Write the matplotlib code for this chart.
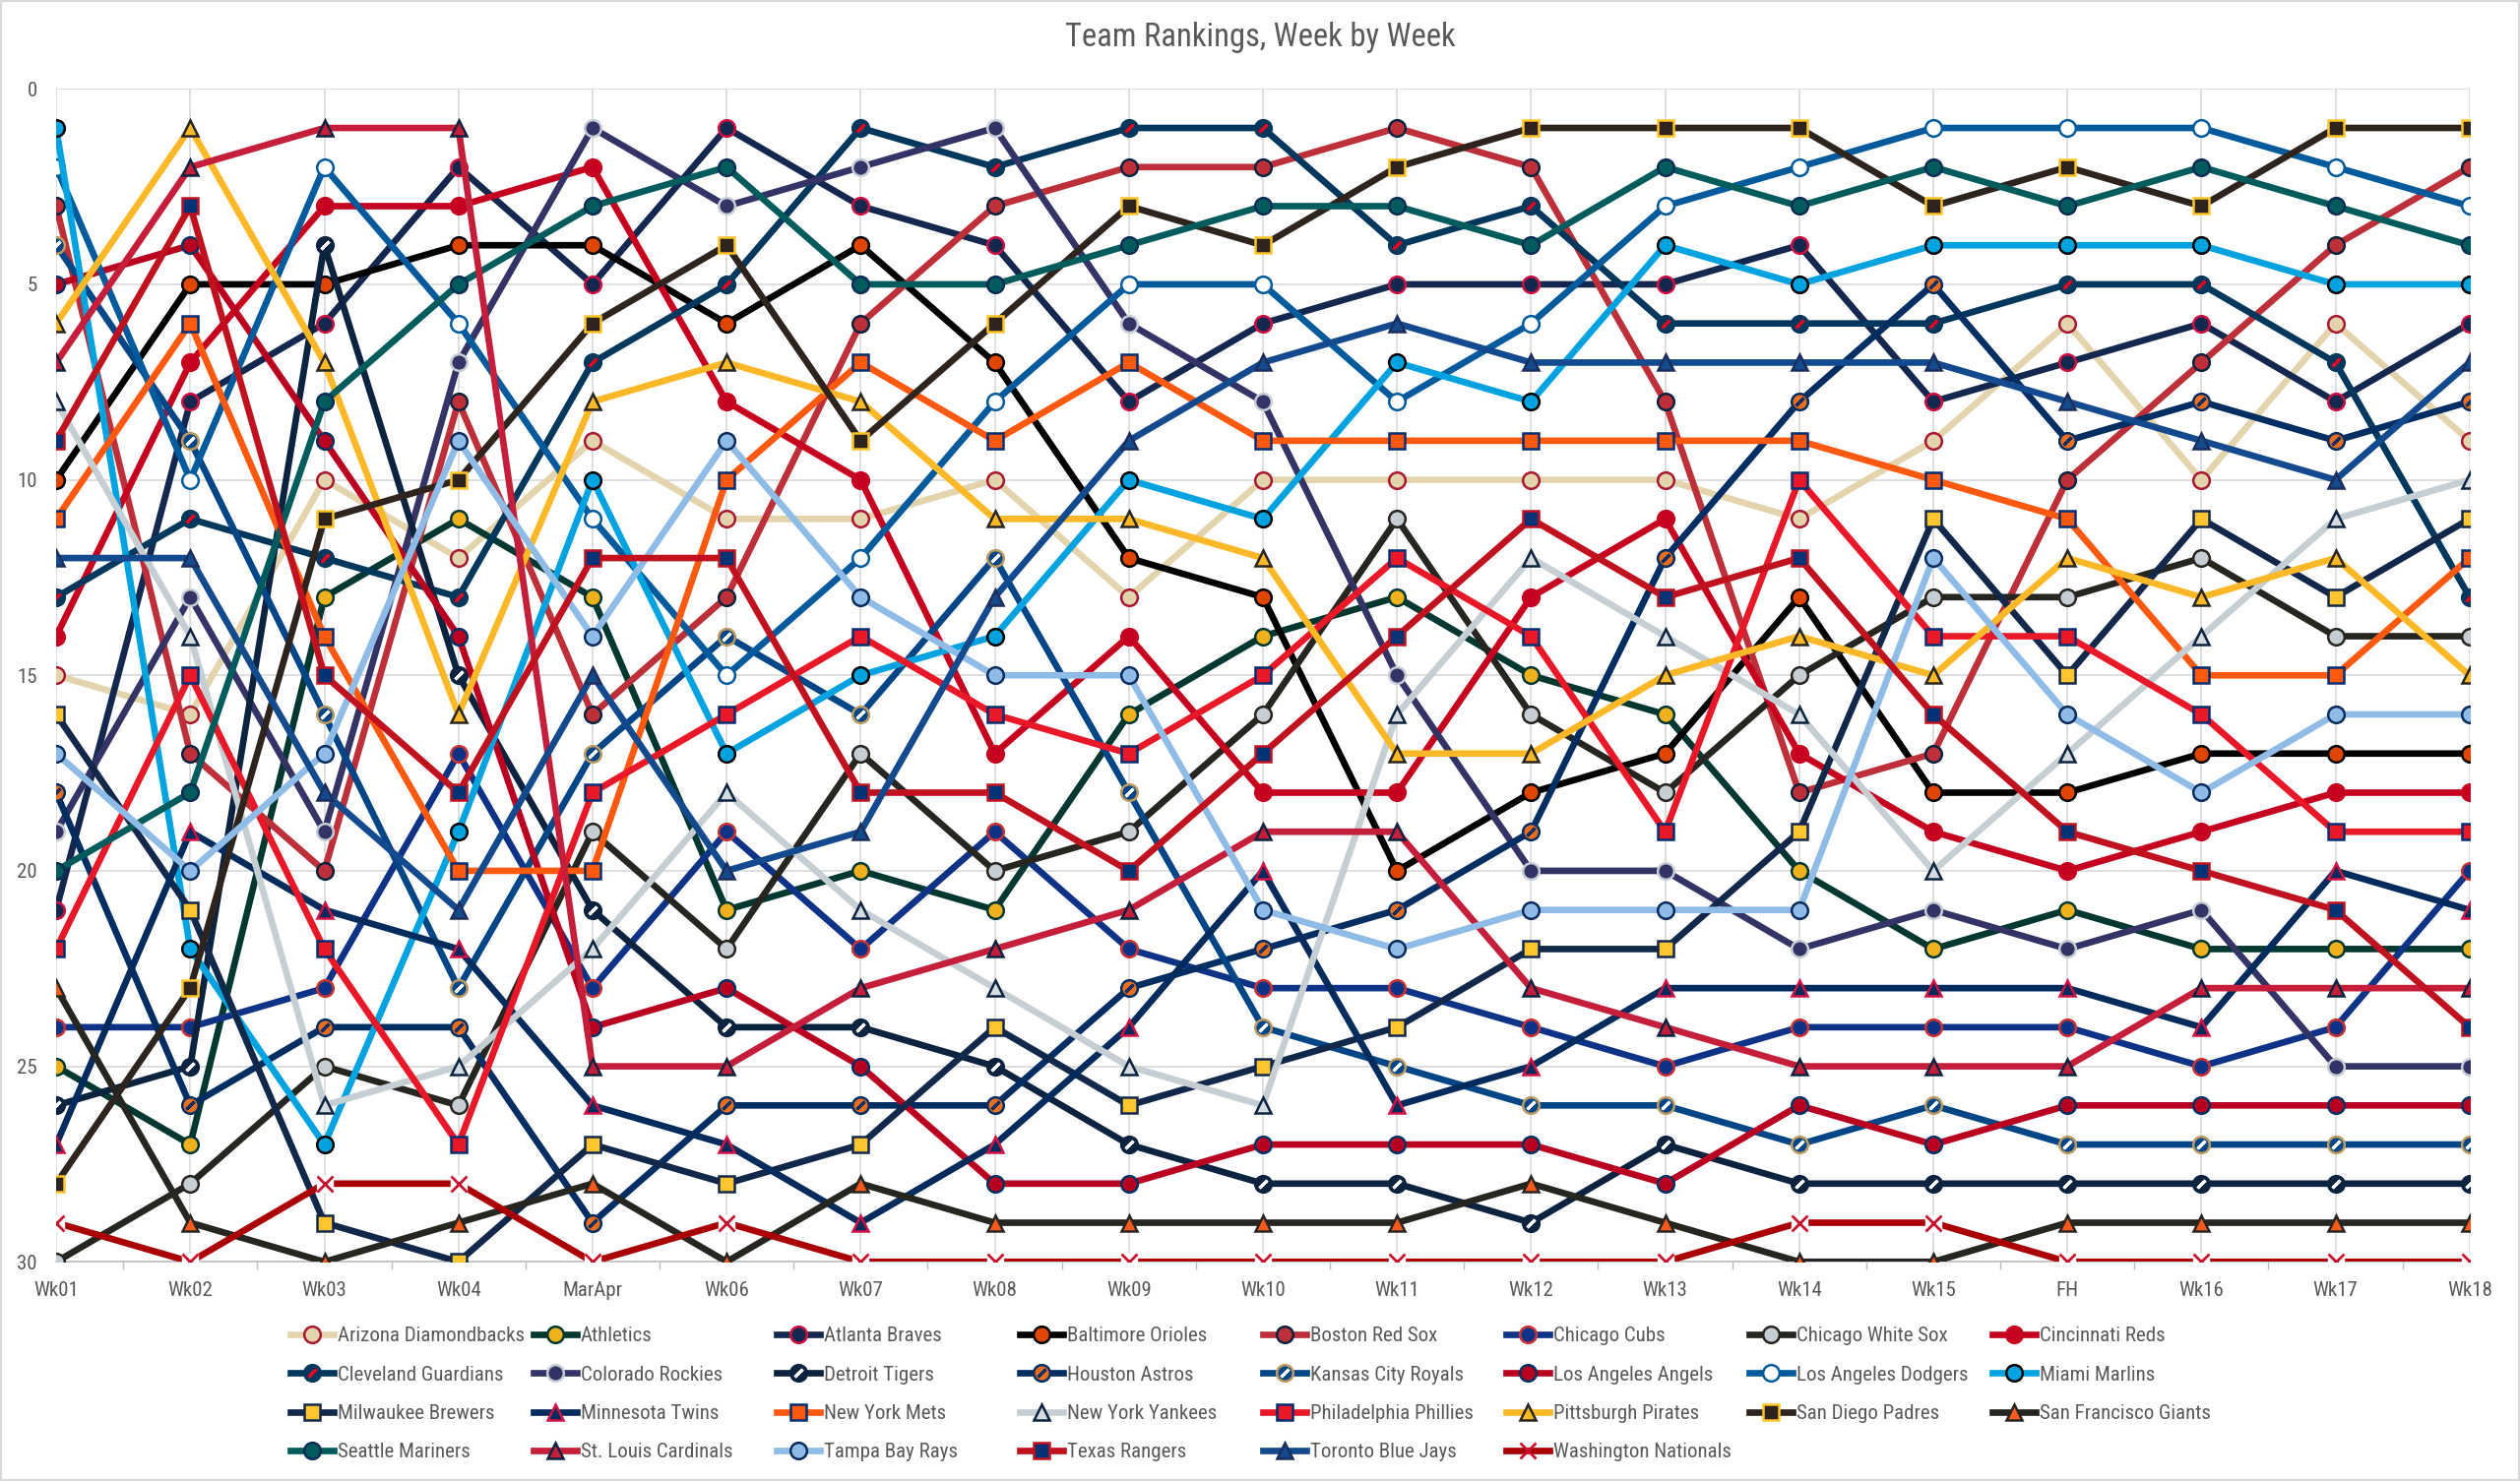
import matplotlib
matplotlib.use("Agg")
import matplotlib.pyplot as plt
from matplotlib import font_manager
from matplotlib.patches import Rectangle

# pick a narrow face if one is installed (the original uses a condensed Office font)
available = {f.name for f in font_manager.fontManager.ttflist}
font_name = "DejaVu Sans"
for cand in ["Liberation Sans Narrow", "Roboto Condensed", "Open Sans Condensed", "Noto Sans", "Liberation Sans"]:
    if cand in available:
        font_name = cand
        break
narrow = font_name in ("Liberation Sans Narrow", "Roboto Condensed", "Open Sans Condensed")
plt.rcParams["font.family"] = [font_name, "DejaVu Sans"]

weeks = ["Wk01", "Wk02", "Wk03", "Wk04", "MarApr", "Wk06", "Wk07", "Wk08", "Wk09", "Wk10",
         "Wk11", "Wk12", "Wk13", "Wk14", "Wk15", "FH", "Wk16", "Wk17", "Wk18"]

# weekly ranks
ari = [15, 16, 10, 12, 9, 11, 11, 10, 13, 10, 10, 10, 10, 11, 9, 6, 10, 6, 9]
ath = [25, 27, 13, 11, 13, 21, 20, 21, 16, 14, 13, 15, 16, 20, 22, 21, 22, 22, 22]
atl = [21, 8, 6, 2, 5, 1, 3, 4, 8, 6, 5, 5, 5, 4, 8, 7, 6, 8, 6]
bal = [10, 5, 5, 4, 4, 6, 4, 7, 12, 13, 20, 18, 17, 13, 18, 18, 17, 17, 17]
bos = [3, 17, 20, 8, 16, 13, 6, 3, 2, 2, 1, 2, 8, 18, 17, 10, 7, 4, 2]
chc = [24, 24, 23, 17, 23, 19, 22, 19, 22, 23, 23, 24, 25, 24, 24, 24, 25, 24, 20]
cws = [30, 28, 25, 26, 19, 22, 17, 20, 19, 16, 11, 16, 18, 15, 13, 13, 12, 14, 14]
cin = [14, 7, 3, 3, 2, 8, 10, 17, 14, 18, 18, 13, 11, 17, 19, 20, 19, 18, 18]
cle = [13, 11, 12, 13, 7, 5, 1, 2, 1, 1, 4, 3, 6, 6, 6, 5, 5, 7, 13]
col = [19, 13, 19, 7, 1, 3, 2, 1, 6, 8, 15, 20, 20, 22, 21, 22, 21, 25, 25]
det = [26, 25, 4, 15, 21, 24, 24, 25, 27, 28, 28, 29, 27, 28, 28, 28, 28, 28, 28]
hou = [18, 26, 24, 24, 29, 26, 26, 26, 23, 22, 21, 19, 12, 8, 5, 9, 8, 9, 8]
kc = [4, 9, 16, 23, 17, 14, 16, 12, 18, 24, 25, 26, 26, 27, 26, 27, 27, 27, 27]
laa = [5, 4, 9, 14, 24, 23, 25, 28, 28, 27, 27, 27, 28, 26, 27, 26, 26, 26, 26]
lad = [2, 10, 2, 6, 11, 15, 12, 8, 5, 5, 8, 6, 3, 2, 1, 1, 1, 2, 3]
mia = [1, 22, 27, 19, 10, 17, 15, 14, 10, 11, 7, 8, 4, 5, 4, 4, 4, 5, 5]
mil = [16, 21, 29, 30, 27, 28, 27, 24, 26, 25, 24, 22, 22, 19, 11, 15, 11, 13, 11]
mnt = [27, 19, 21, 22, 26, 27, 29, 27, 24, 20, 26, 25, 23, 23, 23, 23, 24, 20, 21]
nym = [11, 6, 14, 20, 20, 10, 7, 9, 7, 9, 9, 9, 9, 9, 10, 11, 15, 15, 12]
nyy = [8, 14, 26, 25, 22, 18, 21, 23, 25, 26, 16, 12, 14, 16, 20, 17, 14, 11, 10]
phi = [22, 15, 22, 27, 18, 16, 14, 16, 17, 15, 12, 14, 19, 10, 14, 14, 16, 19, 19]
pit = [6, 1, 7, 16, 8, 7, 8, 11, 11, 12, 17, 17, 15, 14, 15, 12, 13, 12, 15]
sd = [28, 23, 11, 10, 6, 4, 9, 6, 3, 4, 2, 1, 1, 1, 3, 2, 3, 1, 1]
sf = [23, 29, 30, 29, 28, 30, 28, 29, 29, 29, 29, 28, 29, 30, 30, 29, 29, 29, 29]
sea = [20, 18, 8, 5, 3, 2, 5, 5, 4, 3, 3, 4, 2, 3, 2, 3, 2, 3, 4]
stl = [7, 2, 1, 1, 25, 25, 23, 22, 21, 19, 19, 23, 24, 25, 25, 25, 23, 23, 23]
tb = [17, 20, 17, 9, 14, 9, 13, 15, 15, 21, 22, 21, 21, 21, 12, 16, 18, 16, 16]
tex = [9, 3, 15, 18, 12, 12, 18, 18, 20, 17, 14, 11, 13, 12, 16, 19, 20, 21, 24]
tor = [12, 12, 18, 21, 15, 20, 19, 13, 9, 7, 6, 7, 7, 7, 7, 8, 9, 10, 7]
wsh = [29, 30, 28, 28, 30, 29, 30, 30, 30, 30, 30, 30, 30, 29, 29, 30, 30, 30, 30]

# name, ranks, line colour, marker, face, edge, stripe colour (None = plain marker)
teams = [
    ("Arizona Diamondbacks", ari, "#E3D4AD", "o", "#E3D4AD", "#A71930", None),
    ("Athletics", ath, "#003831", "o", "#EFB21E", "#003831", None),
    ("Atlanta Braves", atl, "#13274F", "o", "#13274F", "#CE1141", None),
    ("Baltimore Orioles", bal, "#000000", "o", "#DF4601", "#000000", None),
    ("Boston Red Sox", bos, "#BD3039", "o", "#BD3039", "#0C2340", None),
    ("Chicago Cubs", chc, "#0E3386", "o", "#0E3386", "#CC3433", None),
    ("Chicago White Sox", cws, "#27251F", "o", "#C4CED4", "#27251F", None),
    ("Cincinnati Reds", cin, "#C6011F", "o", "#C6011F", "#C6011F", None),
    ("Cleveland Guardians", cle, "#00385D", "o", "#00385D", "#00385D", "#E50022"),
    ("Colorado Rockies", col, "#333366", "o", "#333366", "#C4CED4", None),
    ("Detroit Tigers", det, "#0C2340", "o", "#0C2340", "#0C2340", "#FFFFFF"),
    ("Houston Astros", hou, "#002D62", "o", "#EB6E1F", "#002D62", "#002D62"),
    ("Kansas City Royals", kc, "#004687", "o", "#004687", "#BD9B60", "#FFFFFF"),
    ("Los Angeles Angels", laa, "#BA0021", "o", "#BA0021", "#003263", None),
    ("Los Angeles Dodgers", lad, "#005A9C", "o", "#FFFFFF", "#005A9C", None),
    ("Miami Marlins", mia, "#00A3E0", "o", "#00A3E0", "#000000", None),
    ("Milwaukee Brewers", mil, "#12284B", "s", "#FFC52F", "#12284B", None),
    ("Minnesota Twins", mnt, "#002B5C", "^", "#002B5C", "#D31145", None),
    ("New York Mets", nym, "#FF5910", "s", "#FF5910", "#002D72", None),
    ("New York Yankees", nyy, "#C4CED3", "^", "#D5DCE0", "#0C2340", None),
    ("Philadelphia Phillies", phi, "#E81828", "s", "#E81828", "#002D72", None),
    ("Pittsburgh Pirates", pit, "#FDB827", "^", "#FDB827", "#27251F", None),
    ("San Diego Padres", sd, "#2F241D", "s", "#2F241D", "#FFC425", None),
    ("San Francisco Giants", sf, "#27251F", "^", "#FD5A1E", "#27251F", None),
    ("Seattle Mariners", sea, "#005C5C", "o", "#005C5C", "#0C2C56", None),
    ("St. Louis Cardinals", stl, "#C41E3A", "^", "#C41E3A", "#0C2340", None),
    ("Tampa Bay Rays", tb, "#8FBCE6", "o", "#8FBCE6", "#092C5C", None),
    ("Texas Rangers", tex, "#C0111F", "s", "#003278", "#C0111F", None),
    ("Toronto Blue Jays", tor, "#134A8E", "^", "#134A8E", "#1D2D5C", None),
    ("Washington Nationals", wsh, "#AB0003", "x", "#FFFFFF", "#C8102E", None),
]

fig = plt.figure(figsize=(25.6, 15.05), dpi=100)
ax = fig.add_axes([0.0223, 0.148, 0.9577, 0.792])

x = list(range(len(weeks)))
handles = []
for i, (name, ranks, lc, mk, mfc, mec, stripe) in enumerate(teams):
    z = 3 + i * 0.1
    if mk == "x":
        ax.plot(x, ranks, color=lc, lw=4.8, solid_capstyle="round", zorder=z)
        ax.plot(x, ranks, ls="none", marker="s", ms=11, mfc="white", mec="white", zorder=z + 0.01)
        h, = ax.plot(x, ranks, ls="none", marker="x", ms=11, mec=mec, mew=2, zorder=z + 0.02)
        leg_line, = ax.plot([], [], color=lc, lw=4.8)
        handles.append(((leg_line, h), name))
        continue
    h, = ax.plot(x, ranks, color=lc, lw=4.8, marker=mk, ms=12, mfc=mfc, mec=mec, mew=1.8,
                 solid_joinstyle="round", zorder=z)
    if stripe is not None:
        s, = ax.plot(x, ranks, ls="none", marker=(2, 2, -45), ms=8, mec=stripe, mew=2.2,
                     zorder=z + 0.01)
        handles.append(((h, s), name))
    else:
        handles.append((h, name))

ax.set_xlim(0, len(weeks) - 1)
ax.set_ylim(30, 0)
ax.set_yticks(range(0, 31, 5))
ax.set_xticks(x)
ax.set_xticklabels(weeks)
ax.set_xticks([v + 0.5 for v in x[:-1]], minor=True)

tick_fs = 15 if narrow else 13
ax.tick_params(axis="y", length=0, pad=14, labelsize=tick_fs, labelcolor="#595959")
ax.tick_params(axis="x", which="major", length=0, pad=14, labelsize=tick_fs, labelcolor="#595959")
ax.tick_params(axis="x", which="minor", length=6, width=1, color="#BFBFBF")

ax.grid(True, which="major", color="#D9D9D9", lw=1.2, zorder=0)
ax.set_axisbelow(True)
for sp in ["top", "right", "left"]:
    ax.spines[sp].set_visible(False)
ax.spines["bottom"].set_color("#BFBFBF")
ax.spines["bottom"].set_linewidth(1.2)

fig.text(0.5, 0.975, "Team Rankings, Week by Week", ha="center", va="center",
         fontsize=23.5 if narrow else 19, color="#595959")

# Excel legend: 8 equal-width columns filled row by row -> one legend per column
ncol = 8
col_x0 = 295 / 2560
col_step = 247 / 2560
for j in range(ncol):
    idx = [r * ncol + j for r in range(4) if r * ncol + j < len(handles)]
    fig.legend([handles[k][0] for k in idx], [handles[k][1] for k in idx],
               loc="upper left", bbox_to_anchor=(col_x0 + j * col_step, 0.1040),
               borderaxespad=0, borderpad=0, frameon=False,
               fontsize=15 if narrow else 12.5, handlelength=2.1, handletextpad=0.2,
               labelspacing=0.97, labelcolor="#595959")

fig.add_artist(Rectangle((0.0005, 0.0005), 0.999, 0.999, transform=fig.transFigure,
                         fill=False, edgecolor="#D9D9D9", lw=1.5))

fig.savefig("out.png", dpi=100)
